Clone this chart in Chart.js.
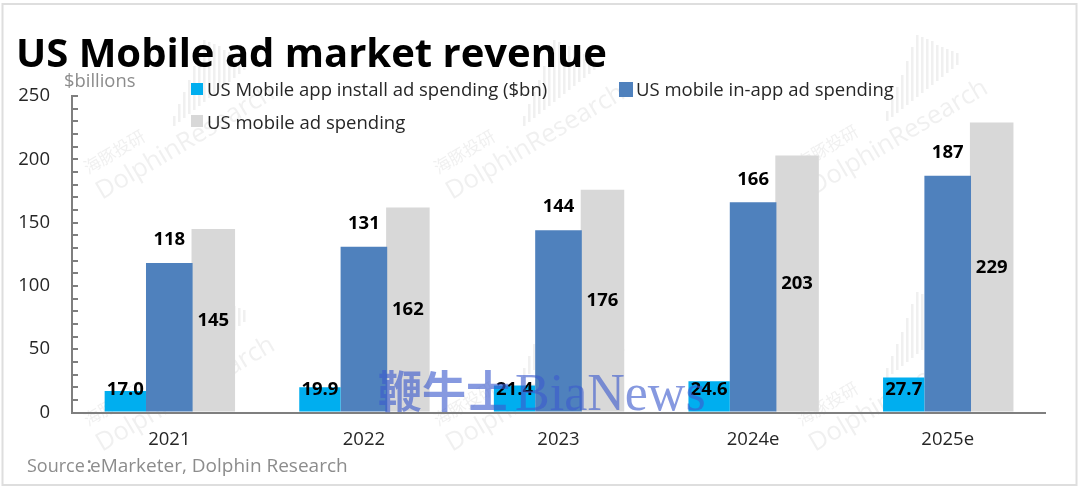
<!DOCTYPE html>
<html><head><meta charset="utf-8">
<style>html,body{margin:0;padding:0;background:#fff}#w{width:1080px;height:491px;position:relative}canvas{display:block}</style>
<script src="https://cdn.jsdelivr.net/npm/chart.js@4"></script></head>
<body><div id="w"><canvas id="c" width="1080" height="491"></canvas></div>
<script>
const categories=['2021','2022','2023','2024e','2025e'];
const installSpend=[17.0,19.9,21.4,24.6,27.7];
const inAppSpend=[118,131,144,166,187];
const mobileSpend=[145,162,176,203,229];
const titleText='US Mobile ad market revenue';
const unitText='$billions';
const sourceLead='Source：';
const sourceText='eMarketer, Dolphin Research';
const seriesNames=['US Mobile app install ad spending ($bn)','US mobile in-app ad spending','US mobile ad spending'];
const colors=['#00AEEF','#4F81BD','#D8D8D8'];
const FONT='"Open Sans","Noto Sans",sans-serif';
const CJK='"Noto Sans CJK SC"';
const wmTiles=[[102,200],[452,200],[815,195],[102,452],[452,452],[815,452]];
const waveHeights=[10,18,26,34,44,54,62,56,50,44,36,30,24,18,12];

const backdrop={id:'backdrop',beforeDraw(ch){
  const x=ch.ctx;x.save();
  x.fillStyle='#fff';x.fillRect(0,0,1080,491);
  x.strokeStyle='#DEDEDE';x.lineWidth=2;x.strokeRect(2.5,4,1074,481);
  for(const [tx,ty] of wmTiles){
    x.save();x.translate(tx,ty);x.rotate(-30.5*Math.PI/180);
    x.fillStyle='rgba(120,120,120,0.11)';
    x.font='25.5px '+FONT;x.fillText('DolphinResearch',0,0);
    x.font='17px '+CJK;x.fillText('海豚投研',1,-29);
    x.restore();
    x.fillStyle='rgba(120,120,120,0.11)';
    waveHeights.forEach((h,i)=>x.fillRect(tx+71+i*5,ty-74-i*4-h,2.5,h));
  }
  x.restore();
}};
const overlay={id:'overlay',afterDraw(ch){
  const x=ch.ctx,ys=ch.scales.y;x.save();
  x.textAlign='center';x.textBaseline='middle';x.fillStyle='#000';
  x.font='bold 18.5px '+FONT;
  const m=[0,1,2].map(i=>ch.getDatasetMeta(i));
  categories.forEach((c,i)=>{
    x.fillText(installSpend[i].toFixed(1),m[0].data[i].x,ys.getPixelForValue(18));
    x.fillText(String(inAppSpend[i]),m[1].data[i].x,m[1].data[i].y-23);
    x.fillText(String(mobileSpend[i]),m[2].data[i].x,ys.getPixelForValue(mobileSpend[i]/2));
  });
  x.textAlign='left';x.textBaseline='alphabetic';
  x.fillStyle='#000';x.font='bold 40px '+FONT;x.fillText(titleText,16,67);
  x.fillStyle='#8C8C8C';x.font='18.4px '+FONT;x.fillText(unitText,64,87);
  x.font='18px "Open Sans",'+CJK;x.fillText(sourceLead,27,472);
  x.font='19px '+FONT;x.fillText(sourceText,90,472);
  x.font='18.5px '+FONT;
  const lg=[[191,83,207,96],[619,82,636,96],[191,115,207,129]];
  lg.forEach((p,i)=>{x.fillStyle=colors[i];x.fillRect(p[0],p[1],i==1?14:12,i==1?15:12);
    x.fillStyle='#262626';x.fillText(seriesNames[i],p[2],p[3]);});
  x.fillStyle='rgba(60,90,205,0.62)';
  x.font='bold 44px '+CJK;x.fillText('鞭牛士',378,408);
  x.font='52px "Liberation Serif"';x.fillText('BiaNews',515,410);
  x.restore();
}};
new Chart(document.getElementById('c'),{type:'bar',
 data:{labels:categories,datasets:[
  {label:seriesNames[0],data:installSpend,backgroundColor:colors[0],barPercentage:0.94},
  {label:seriesNames[1],data:inAppSpend,backgroundColor:colors[1],barPercentage:1.06},
  {label:seriesNames[2],data:mobileSpend,backgroundColor:colors[2],barPercentage:0.99}]},
 options:{responsive:false,animation:false,devicePixelRatio:1,
  categoryPercentage:0.678,
  layout:{padding:{top:96,right:35,left:0,bottom:0}},
  plugins:{legend:{display:false},tooltip:{enabled:false}},
  scales:{
   x:{grid:{display:false},border:{color:'#7F7F7F',width:2},
      ticks:{color:'#262626',font:{size:18.5,family:FONT},padding:8,maxRotation:0},
      afterFit(s){s.height=78.5}},
   y:{min:0,max:250,border:{color:'#7F7F7F',width:2},
      grid:{drawOnChartArea:false,color:'#7F7F7F',lineWidth:2,tickLength:-6,drawTicks:true},
      ticks:{stepSize:10,autoSkip:false,color:'#262626',font:{size:18.5,family:FONT},padding:28,
        callback:v=>v%50===0?String(v):''},
      afterFit(s){s.width=72}}
  }},
 plugins:[backdrop,overlay]});
</script></body></html>
